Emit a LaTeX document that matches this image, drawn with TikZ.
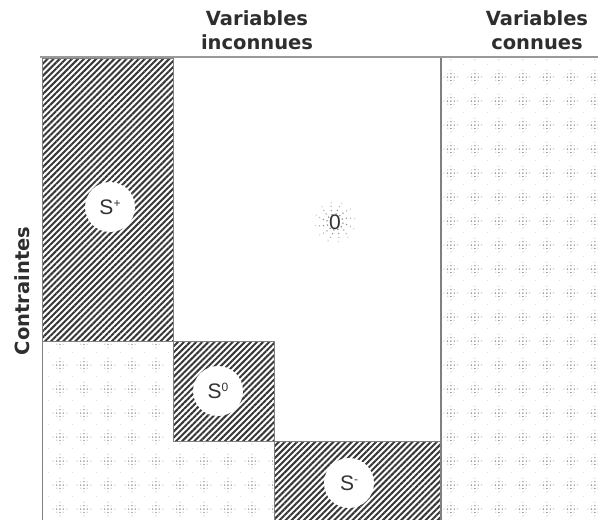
\documentclass[tikz,border=0pt]{standalone}
\usepackage{fontspec}
\setmainfont{DejaVu Sans}
\newfontfamily\labfont{Liberation Sans}
\usetikzlibrary{patterns.meta,calc}
\tikzdeclarepattern{
  name=stipple, type=colored,
  bounding box={(0pt,0pt) and (24.4pt,24.4pt)},
  tile size={(24.4pt,24.4pt)},
  code={
    \fill[black!70] (12.2pt,12.2pt) circle (0.75pt);
    \foreach \p in {(8.7pt,12.2pt),(15.7pt,12.2pt),(12.2pt,8.7pt),(12.2pt,15.7pt)} \fill[black!52] \p circle (0.7pt);
    \foreach \p in {(5.2pt,12.2pt),(19.2pt,12.2pt),(12.2pt,5.2pt),(12.2pt,19.2pt),(9pt,9pt),(15.4pt,15.4pt),(9pt,15.4pt),(15.4pt,9pt)} \fill[black!32] \p circle (0.6pt);
    \fill[black!25] (0.2pt,0.2pt) circle (0.6pt);
  }
}
\tikzset{
  hatch/.style={pattern={Lines[angle=45,distance=4.3pt,line width=2pt]}, pattern color=black!78},
  dotted region/.style={pattern=stipple},
  border/.style={draw=black!50, line width=1pt},
  hole/.style={circle, fill=white, minimum size=50pt, inner sep=0pt},
  lab/.style={font=\labfont\fontsize{21}{21}\selectfont, text=black!80},
  hdr/.style={font=\fontsize{19.5}{24}\selectfont\bfseries, text=black!82, align=center}
}
\newcommand{\supr}[1]{\raisebox{0.6ex}{\fontsize{12}{12}\selectfont #1}}
\begin{document}
\begin{tikzpicture}[x=1pt,y=-1pt]
\useasboundingbox (0,0) rectangle (598,520);
\fill[white] (0,0) rectangle (598,520);
% stippled regions
\fill[dotted region] (441,58) rectangle (598,520);
\fill[dotted region] (42,341) -- (173,341) -- (173,441) -- (274,441) -- (274,520) -- (42,520) -- cycle;
% hatched regions
\fill[hatch] (42,58) rectangle (173,341);
\fill[hatch] (173,341) rectangle (274,441);
\fill[hatch] (274,441) rectangle (441,520);
% borders
\draw[border] (42,520) -- (42,58) -- (173,58) -- (173,341) -- (42,341);
\draw[border] (173,341) -- (274,341) -- (274,441) -- (173,441) -- (173,341);
\draw[border] (274,441) -- (441,441);
\draw[border] (274,441) -- (274,520);
\draw[draw=black!50, line width=2.6pt] (441,57) -- (441,520);
\draw[draw=black!40, line width=2.2pt] (40,57) -- (598,57);
% halo around 0
\foreach \r/\c in {8/55,12/45,16/30,20/18} {
  \foreach \a in {0,30,...,330} {
    \fill[black!\c] ($(335,222)+(\a+\r:\r)$) circle (0.75pt);
  }
}
% circles and labels
\node[hole, lab] (splus) at (110,207) {S\supr{+}};
\node[hole, lab] (szero) at (218,391) {S\supr{0}};
\node[hole, lab] (sminus) at (349,483) {S\supr{-}};
\node[lab] (zero) at (335,222) {0};
% headers
\node[hdr] (hdrA) at (257,30) {Variables\\inconnues};
\node[hdr] (hdrB) at (537,30) {Variables\\connues};
\node[hdr, rotate=90] (cons) at (22,291) {Contraintes};
\end{tikzpicture}
\end{document}
